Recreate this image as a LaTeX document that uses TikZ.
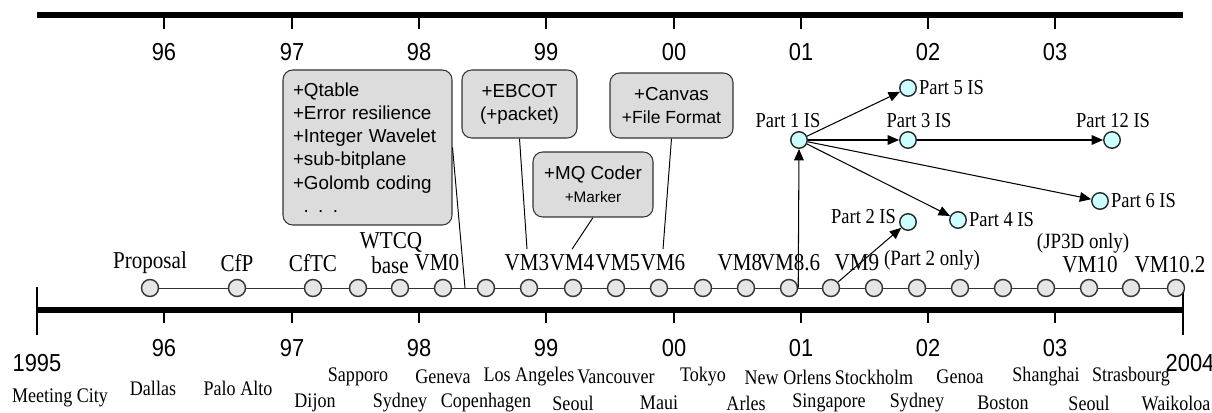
\documentclass[tikz,border=0pt]{standalone}
\usepackage{fontspec}
\setmainfont[FakeStretch=0.87]{Liberation Serif}
\setsansfont{Liberation Sans}
\newfontfamily\yearsans[FakeStretch=0.89]{Liberation Sans}
\usepackage{xcolor}
\usepackage{tikz}
\usetikzlibrary{arrows.meta}

\definecolor{notegray}{HTML}{DCDCDC}
\definecolor{mtggray}{HTML}{E6E6E6}
\definecolor{iscyan}{HTML}{CCFFFF}
\definecolor{rimgray}{HTML}{333333}

\begin{document}
\begin{tikzpicture}[
  x=0.02cm, y=-0.02cm,
  >={Triangle[length=6.5pt,width=5.5pt]},
  axisline/.style={line width=3.1pt},
  yeartick/.style={line width=1.1pt},
  yearlbl/.style={font=\yearsans\fontsize{14}{15}\selectfont, inner sep=0pt},
  mtg/.style={circle, draw=rimgray, fill=mtggray, line width=0.8pt, minimum size=0.34cm, inner sep=0pt},
  isnode/.style={circle, draw=black!85, fill=iscyan, line width=0.8pt, minimum size=0.33cm, inner sep=0pt},
  vmlbl/.style={font=\fontsize{13.8}{14.5}\selectfont, inner sep=3pt},
  islbl/.style={font=\fontsize{12.1}{13}\selectfont, inner sep=1pt},
  city/.style={font=\fontsize{11.8}{13}\selectfont, inner sep=0pt},
  note/.style={draw=black!80, fill=notegray, rounded corners=5.5pt, line width=0.6pt,
    font=\sffamily\fontsize{10.7}{13.2}\selectfont, inner sep=0pt, align=center},
  link/.style={line width=0.55pt},
  arr/.style={->, line width=0.6pt}
]

\useasboundingbox (0,0) rectangle (1212,412);

% ==================== top year axis ====================
\draw[axisline] (37,15) -- (1183,15);
\draw[yeartick] (164,15) -- (164,29);
\draw[yeartick] (292,15) -- (292,29);
\draw[yeartick] (419,15) -- (419,29);
\draw[yeartick] (546,15) -- (546,29);
\draw[yeartick] (674,15) -- (674,29);
\draw[yeartick] (801,15) -- (801,29);
\draw[yeartick] (928,15) -- (928,29);
\draw[yeartick] (1055,15) -- (1055,29);
\node[yearlbl] (t96) at (164,52) {96};
\node[yearlbl] (t97) at (292,52) {97};
\node[yearlbl] (t98) at (419,52) {98};
\node[yearlbl] (t99) at (546,52) {99};
\node[yearlbl] (t00) at (674,52) {00};
\node[yearlbl] (t01) at (801,52) {01};
\node[yearlbl] (t02) at (928,52) {02};
\node[yearlbl] (t03) at (1055,52) {03};

% ==================== bottom year axis ====================
\draw[axisline] (37,310) -- (1183,310);
\draw[yeartick] (37,287) -- (37,335);
\draw[yeartick] (1183,287) -- (1183,335);
\draw[yeartick] (164,310) -- (164,323);
\draw[yeartick] (292,310) -- (292,323);
\draw[yeartick] (419,310) -- (419,323);
\draw[yeartick] (546,310) -- (546,323);
\draw[yeartick] (674,310) -- (674,323);
\draw[yeartick] (801,310) -- (801,323);
\draw[yeartick] (928,310) -- (928,323);
\draw[yeartick] (1055,310) -- (1055,323);
\node[yearlbl] (b95) at (37,363) {1995};
\node[yearlbl] (b96) at (164,348) {96};
\node[yearlbl] (b97) at (292,348) {97};
\node[yearlbl] (b98) at (419,348) {98};
\node[yearlbl] (b99) at (546,348) {99};
\node[yearlbl] (b00) at (674,348) {00};
\node[yearlbl] (b01) at (801,348) {01};
\node[yearlbl] (b02) at (928,348) {02};
\node[yearlbl] (b03) at (1055,348) {03};
\node[yearlbl] (b04) at (1190,363) {2004};

% ==================== meeting circles ====================
\node[mtg] (m1) at (150,288) {};
\node[mtg] (m2) at (237,288) {};
\node[mtg] (m3) at (313,288) {};
\node[mtg] (m4) at (358,288) {};
\node[mtg] (m5) at (400,288) {};
\node[mtg] (m6) at (443,288) {};
\node[mtg] (m7) at (486,288) {};
\node[mtg] (m8) at (529,288) {};
\node[mtg] (m9) at (573,288) {};
\node[mtg] (m10) at (616,288) {};
\node[mtg] (m11) at (659,288) {};
\node[mtg] (m12) at (703,288) {};
\node[mtg] (m13) at (746,288) {};
\node[mtg] (vm86) at (789,288) {};
\node[mtg] (vm9) at (831,288) {};
\node[mtg] (m16) at (874,288) {};
\node[mtg] (m17) at (917,288) {};
\node[mtg] (m18) at (960,288) {};
\node[mtg] (m19) at (1003,288) {};
\node[mtg] (m20) at (1046,288) {};
\node[mtg] (m21) at (1089,288) {};
\node[mtg] (m22) at (1131,288) {};
\node[mtg] (m23) at (1176,288) {};
\draw[link, rimgray] (m1) -- (m2) -- (m3) -- (m4) -- (m5) -- (m6) -- (m7) -- (m8)
  -- (m9) -- (m10) -- (m11) -- (m12) -- (m13) -- (vm86) -- (vm9) -- (m16) -- (m17)
  -- (m18) -- (m19) -- (m20) -- (m21) -- (m22) -- (m23);
\coordinate (c1) at (465,288);

% labels over the circles
\node[vmlbl] (lprop) at (150,263) {Proposal};
\node[vmlbl] (lcfp) at (237,263) {CfP};
\node[vmlbl] (lcftc) at (313,263) {CfTC};
\node[vmlbl, inner sep=0pt] (lwtcq) at (391,242) {WTCQ};
\node[vmlbl, inner sep=0pt] (lbase) at (390,265) {base};
\node[vmlbl] (lvm0) at (437,263) {VM0};
\node[vmlbl] (lvm3) at (527,263) {VM3};
\node[vmlbl] (lvm4) at (572,263) {VM4};
\node[vmlbl] (lvm5) at (618,263) {VM5};
\node[vmlbl] (lvm6) at (663,263) {VM6};
\node[vmlbl] (lvm8) at (740,263) {VM8};
\node[vmlbl] (lvm86) at (790,263) {VM8.6};
\node[vmlbl] (lvm9) at (857,263) {VM9};
\node[islbl, font=\fontsize{12.4}{13}\selectfont] (lp2only) at (932,260) {(Part 2 only)};
\node[islbl, font=\fontsize{12.4}{13}\selectfont] (ljp3d) at (1083,243) {(JP3D only)};
\node[vmlbl] (lvm10) at (1090,265) {VM10};
\node[vmlbl] (lvm102) at (1170,265) {VM10.2};

% ==================== feature boxes ====================
\node[note, align=left, text width=2.98cm, minimum width=3.38cm, minimum height=3.1cm] (qbox) at (367.5,147.5)
  {+Qtable\\+Error resilience\\+Integer Wavelet\\+sub-bitplane\\+Golomb coding\\\hspace*{6pt}. . .};
\node[note, minimum width=2.3cm, minimum height=1.36cm] (ebcot) at (519.5,104) {+EBCOT\\(+packet)};
\node[note, minimum width=2.4cm, minimum height=1.3cm] (mqbox) at (593,184.5)
  {+MQ Coder\\{\fontsize{8.7}{10}\selectfont +Marker}};
\node[note, minimum width=2.46cm, minimum height=1.3cm] (canvas) at (671.5,105.5)
  {+Canvas\\{\fontsize{10}{12}\selectfont +File Format}};

\draw[link] (qbox.east) -- (c1);
\draw[link] (ebcot.south) -- (lvm3.north);
\draw[link] (mqbox.south) -- (lvm4.north);
\draw[link] (canvas.south) -- (lvm6.north);

% ==================== IS parts ====================
\node[isnode] (p1) at (799,140) {};
\node[isnode] (p5) at (908,88) {};
\node[isnode] (p3) at (908,140) {};
\node[isnode] (p12) at (1112,140) {};
\node[isnode] (p6) at (1100,201) {};
\node[isnode] (p4) at (958,220) {};
\node[isnode] (p2) at (908,222) {};

\node[islbl] (lp1) at (788,121) {Part 1 IS};
\node[islbl] (lp3) at (919,121) {Part 3 IS};
\node[islbl] (lp12) at (1113,121) {Part 12 IS};
\node[islbl, anchor=west] (lp5) at (917,88) {Part 5 IS};
\node[islbl, anchor=west] (lp6) at (1109,201) {Part 6 IS};
\node[islbl, anchor=west] (lp4) at (967,220) {Part 4 IS};
\node[islbl, anchor=east] (lp2) at (898,217) {Part 2 IS};

\draw[arr] (vm86.east) -- (p1.south);
\draw[arr] (vm9) -- (p2);
\draw[arr] (p1) -- (p5);
\draw[arr] (p1) -- (p3);
\draw[arr] (p3) -- (p12);
\draw[arr] (p1) -- (p6);
\draw[arr] (p1) -- (p4);

% ==================== meeting cities ====================
\node[city] (cmeet) at (60,398) {Meeting City};
\node[city] (c01) at (153,388) {Dallas};
\node[city] (c02) at (238,388) {Palo Alto};
\node[city] (c03) at (315,403) {Dijon};
\node[city] (c04) at (358,377) {Sapporo};
\node[city] (c05) at (400,403) {Sydney};
\node[city] (c06) at (443,377) {Geneva};
\node[city] (c07) at (486,403) {Copenhagen};
\node[city] (c08) at (529,377) {Los Angeles};
\node[city] (c09) at (573,403) {Seoul};
\node[city] (c10) at (616,377) {Vancouver};
\node[city] (c11) at (659,403) {Maui};
\node[city] (c12) at (703,377) {Tokyo};
\node[city] (c13) at (746,403) {Arles};
\node[city] (c14) at (788,377) {New Orlens};
\node[city] (c15) at (829,403) {Singapore};
\node[city] (c16) at (874,377) {Stockholm};
\node[city] (c17) at (917,403) {Sydney};
\node[city] (c18) at (960,377) {Genoa};
\node[city] (c19) at (1003,403) {Boston};
\node[city] (c20) at (1046,377) {Shanghai};
\node[city] (c21) at (1089,403) {Seoul};
\node[city] (c22) at (1131,377) {Strasbourg};
\node[city] (c23) at (1176,403) {Waikoloa};

\end{tikzpicture}
\end{document}
